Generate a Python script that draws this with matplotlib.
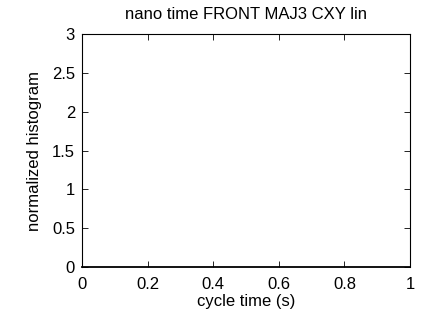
import matplotlib
matplotlib.use('Agg')
import matplotlib.pyplot as plt

plt.rcParams['font.family'] = ['Liberation Sans', 'DejaVu Sans']
plt.rcParams['font.size'] = 12

title = 'nano time FRONT MAJ3 CXY lin'
xlabel = 'cycle time (s)'
ylabel = 'normalized histogram'
xticks = [0, 0.2, 0.4, 0.6, 0.8, 1]
xticklabels = ['0', '0.2', '0.4', '0.6', '0.8', '1']
yticks = [0, 0.5, 1, 1.5, 2, 2.5, 3]
yticklabels = ['0', '0.5', '1', '1.5', '2', '2.5', '3']

fig = plt.figure(figsize=(4.3, 3.18), dpi=100)
ax = fig.add_axes([0.1907, 0.1604, 0.7628, 0.7326])
ax.set_xlim(0, 1)
ax.set_ylim(0, 3)
ax.set_xticks(xticks)
ax.set_xticklabels(xticklabels)
ax.set_yticks(yticks)
ax.set_yticklabels(yticklabels)
ax.tick_params(direction='in', length=4, width=0.6, top=True, right=True)
ax.tick_params(axis='x', pad=7)
ax.tick_params(axis='y', pad=5)
for s in ax.spines.values():
    s.set_linewidth(0.8)
ax.spines['bottom'].set_linewidth(1.3)
ax.set_title(title, fontsize=12, pad=11)
ax.set_xlabel(xlabel, labelpad=2)
ax.set_ylabel(ylabel, labelpad=7)

fig.savefig('out.png', dpi=100)
